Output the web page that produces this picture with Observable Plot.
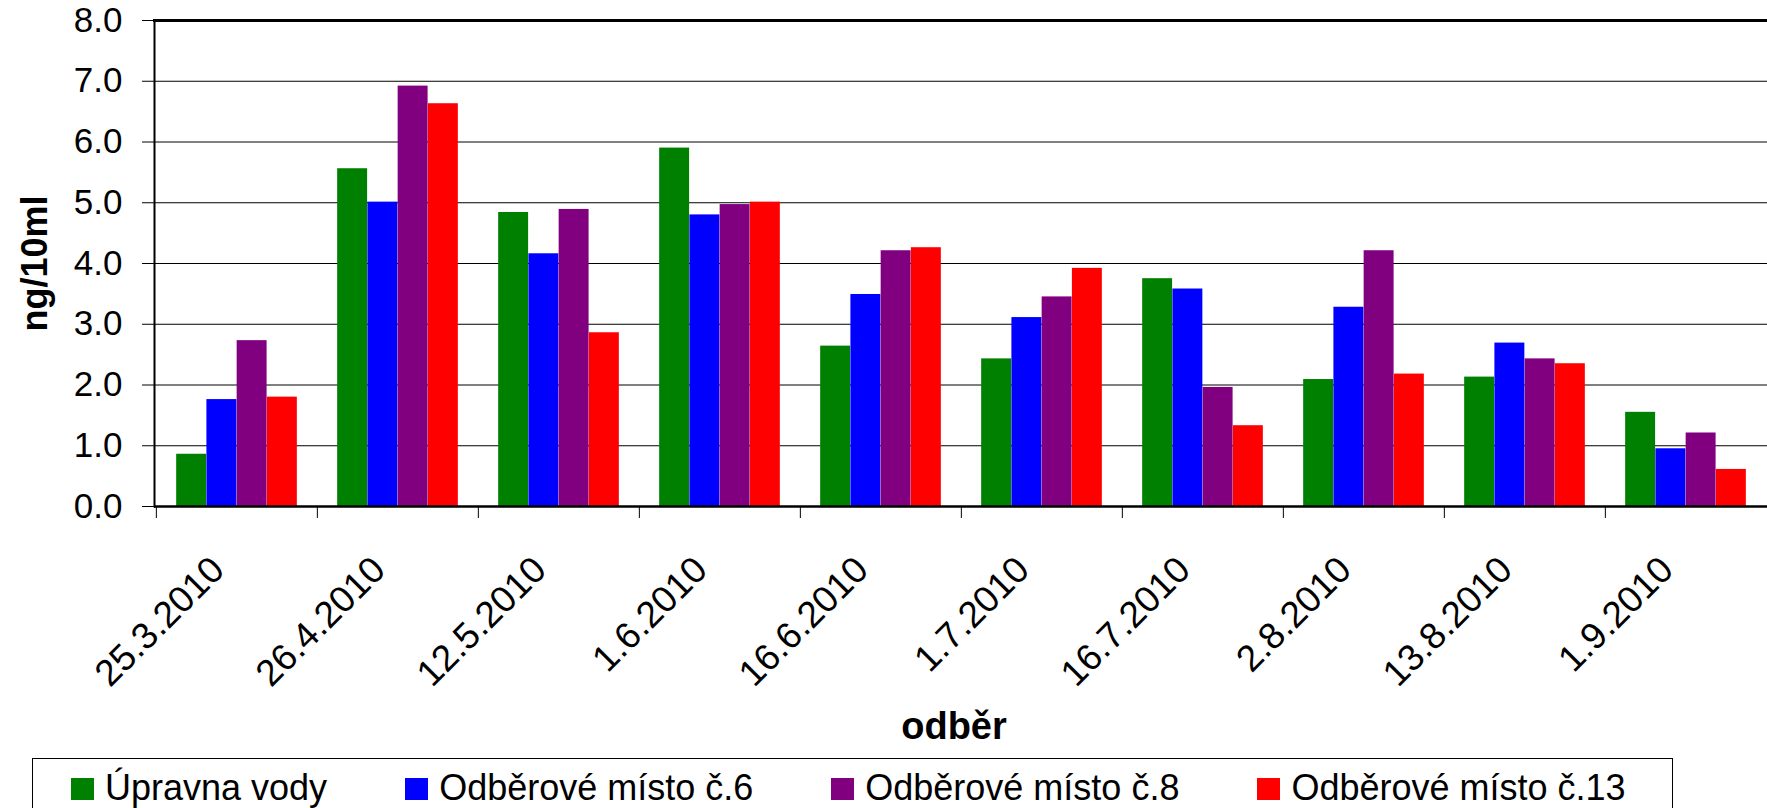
<!DOCTYPE html>
<html>
<head>
<meta charset="utf-8">
<script src="https://cdn.jsdelivr.net/npm/d3@7"></script>
<script src="https://cdn.jsdelivr.net/npm/@observablehq/plot@0.6"></script>
<style>
  html, body { margin: 0; padding: 0; background: #fff; overflow: hidden; }
  #chart svg { display: block; }
  #legend {
    position: absolute; left: 32px; top: 758px; width: 1641px; height: 56px;
    border: 1.5px solid #000; background: #fff; box-sizing: border-box;
    display: flex; align-items: flex-start; justify-content: flex-start; gap: 78px;
    padding-left: 38px; padding-top: 9px;
    font-family: "Liberation Sans", Arial, sans-serif; font-size: 36px; line-height: 40px; color: #000;
  }
  #legend .item { display: flex; align-items: center; white-space: nowrap; }
  #legend .sw { width: 23px; height: 22px; margin-right: 11px; margin-top: 2px; }
</style>
</head>
<body>
<div id="chart"></div>
<div id="legend"></div>
<script>
const dates = ["25.3.2010","26.4.2010","12.5.2010","1.6.2010","16.6.2010","1.7.2010","16.7.2010","2.8.2010","13.8.2010","1.9.2010"];
const seriesNames = ["Úpravna vody","Odběrové místo č.6","Odběrové místo č.8","Odběrové místo č.13"];
const seriesColors = ["#008000","#0000FF","#800080","#FF0000"];
const upravna = [0.86, 5.56, 4.84, 5.90, 2.64, 2.43, 3.75, 2.09, 2.13, 1.55];
const misto6  = [1.76, 5.01, 4.16, 4.80, 3.49, 3.11, 3.58, 3.28, 2.69, 0.95];
const misto8  = [2.73, 6.92, 4.89, 4.97, 4.21, 3.45, 1.96, 4.21, 2.43, 1.21];
const misto13 = [1.80, 6.63, 2.86, 5.01, 4.26, 3.92, 1.33, 2.18, 2.35, 0.61];
const yTicks = [0,1,2,3,4,5,6,7,8];
const yLabel = "ng/10ml";
const xLabel = "odběr";

const allValues = [upravna, misto6, misto8, misto13];
const data = [];
seriesNames.forEach((s, j) => dates.forEach((d, i) => data.push({date: d, series: s, value: allValues[j][i]})));

const W = 1767, H = 758, ML = 154, MR = 0, MT = 20, MB = 252;
const step = (W - ML - MR) / dates.length;
const outer = step * 0.125;
const bw = (step - 2 * outer) / seriesNames.length;
const font = "'Liberation Sans', Arial, sans-serif";

const bars = seriesNames.map((s, j) => Plot.barY(data.filter(d => d.series === s), {
  x: "date", y: "value", fill: seriesColors[j],
  insetLeft: outer + bw * j, insetRight: step - outer - bw * (j + 1)
}));

const plot = Plot.plot({
  width: W, height: H,
  marginLeft: ML, marginRight: MR, marginTop: MT, marginBottom: MB,
  style: {fontFamily: font, background: "#fff", color: "#000"},
  x: {domain: dates, padding: 0},
  y: {domain: [0, 8]},
  marks: [
    Plot.gridY(yTicks, {stroke: "#000", strokeOpacity: 1, strokeWidth: 1}),
    ...bars,
    Plot.frame({anchor: "top", stroke: "#000", strokeWidth: 3}),
    Plot.frame({anchor: "left", stroke: "#000", strokeWidth: 2}),
    Plot.ruleY([0], {stroke: "#000", strokeWidth: 2.5}),
    Plot.axisY({ticks: yTicks, tickFormat: d => d.toFixed(1), tickSize: 12, tickPadding: 20, fontSize: 35, label: null, stroke: "#000"}),
    Plot.axisX({tickSize: 12, tickFormat: () => "", dx: -step / 2, label: null, stroke: "#000"}),
    Plot.axisX({tickSize: 0, tickRotate: -45, tickPadding: 57, fontSize: 37, dx: -19, label: null}),
    Plot.text([yLabel], {frameAnchor: "left", textAnchor: "middle", dx: -119, rotate: -90, fontSize: 36, fontWeight: "bold", fill: "#000"}),
    Plot.text([xLabel], {frameAnchor: "bottom", dx: -7, dy: 232, fontSize: 38, fontWeight: "bold", fill: "#000"})
  ]
});
document.getElementById("chart").appendChild(plot);

const legend = document.getElementById("legend");
seriesNames.forEach((s, j) => {
  const it = document.createElement("div");
  it.className = "item";
  const sw = document.createElement("span");
  sw.className = "sw";
  sw.style.background = seriesColors[j];
  const tx = document.createElement("span");
  tx.textContent = s;
  it.appendChild(sw); it.appendChild(tx);
  legend.appendChild(it);
});
</script>
</body>
</html>
